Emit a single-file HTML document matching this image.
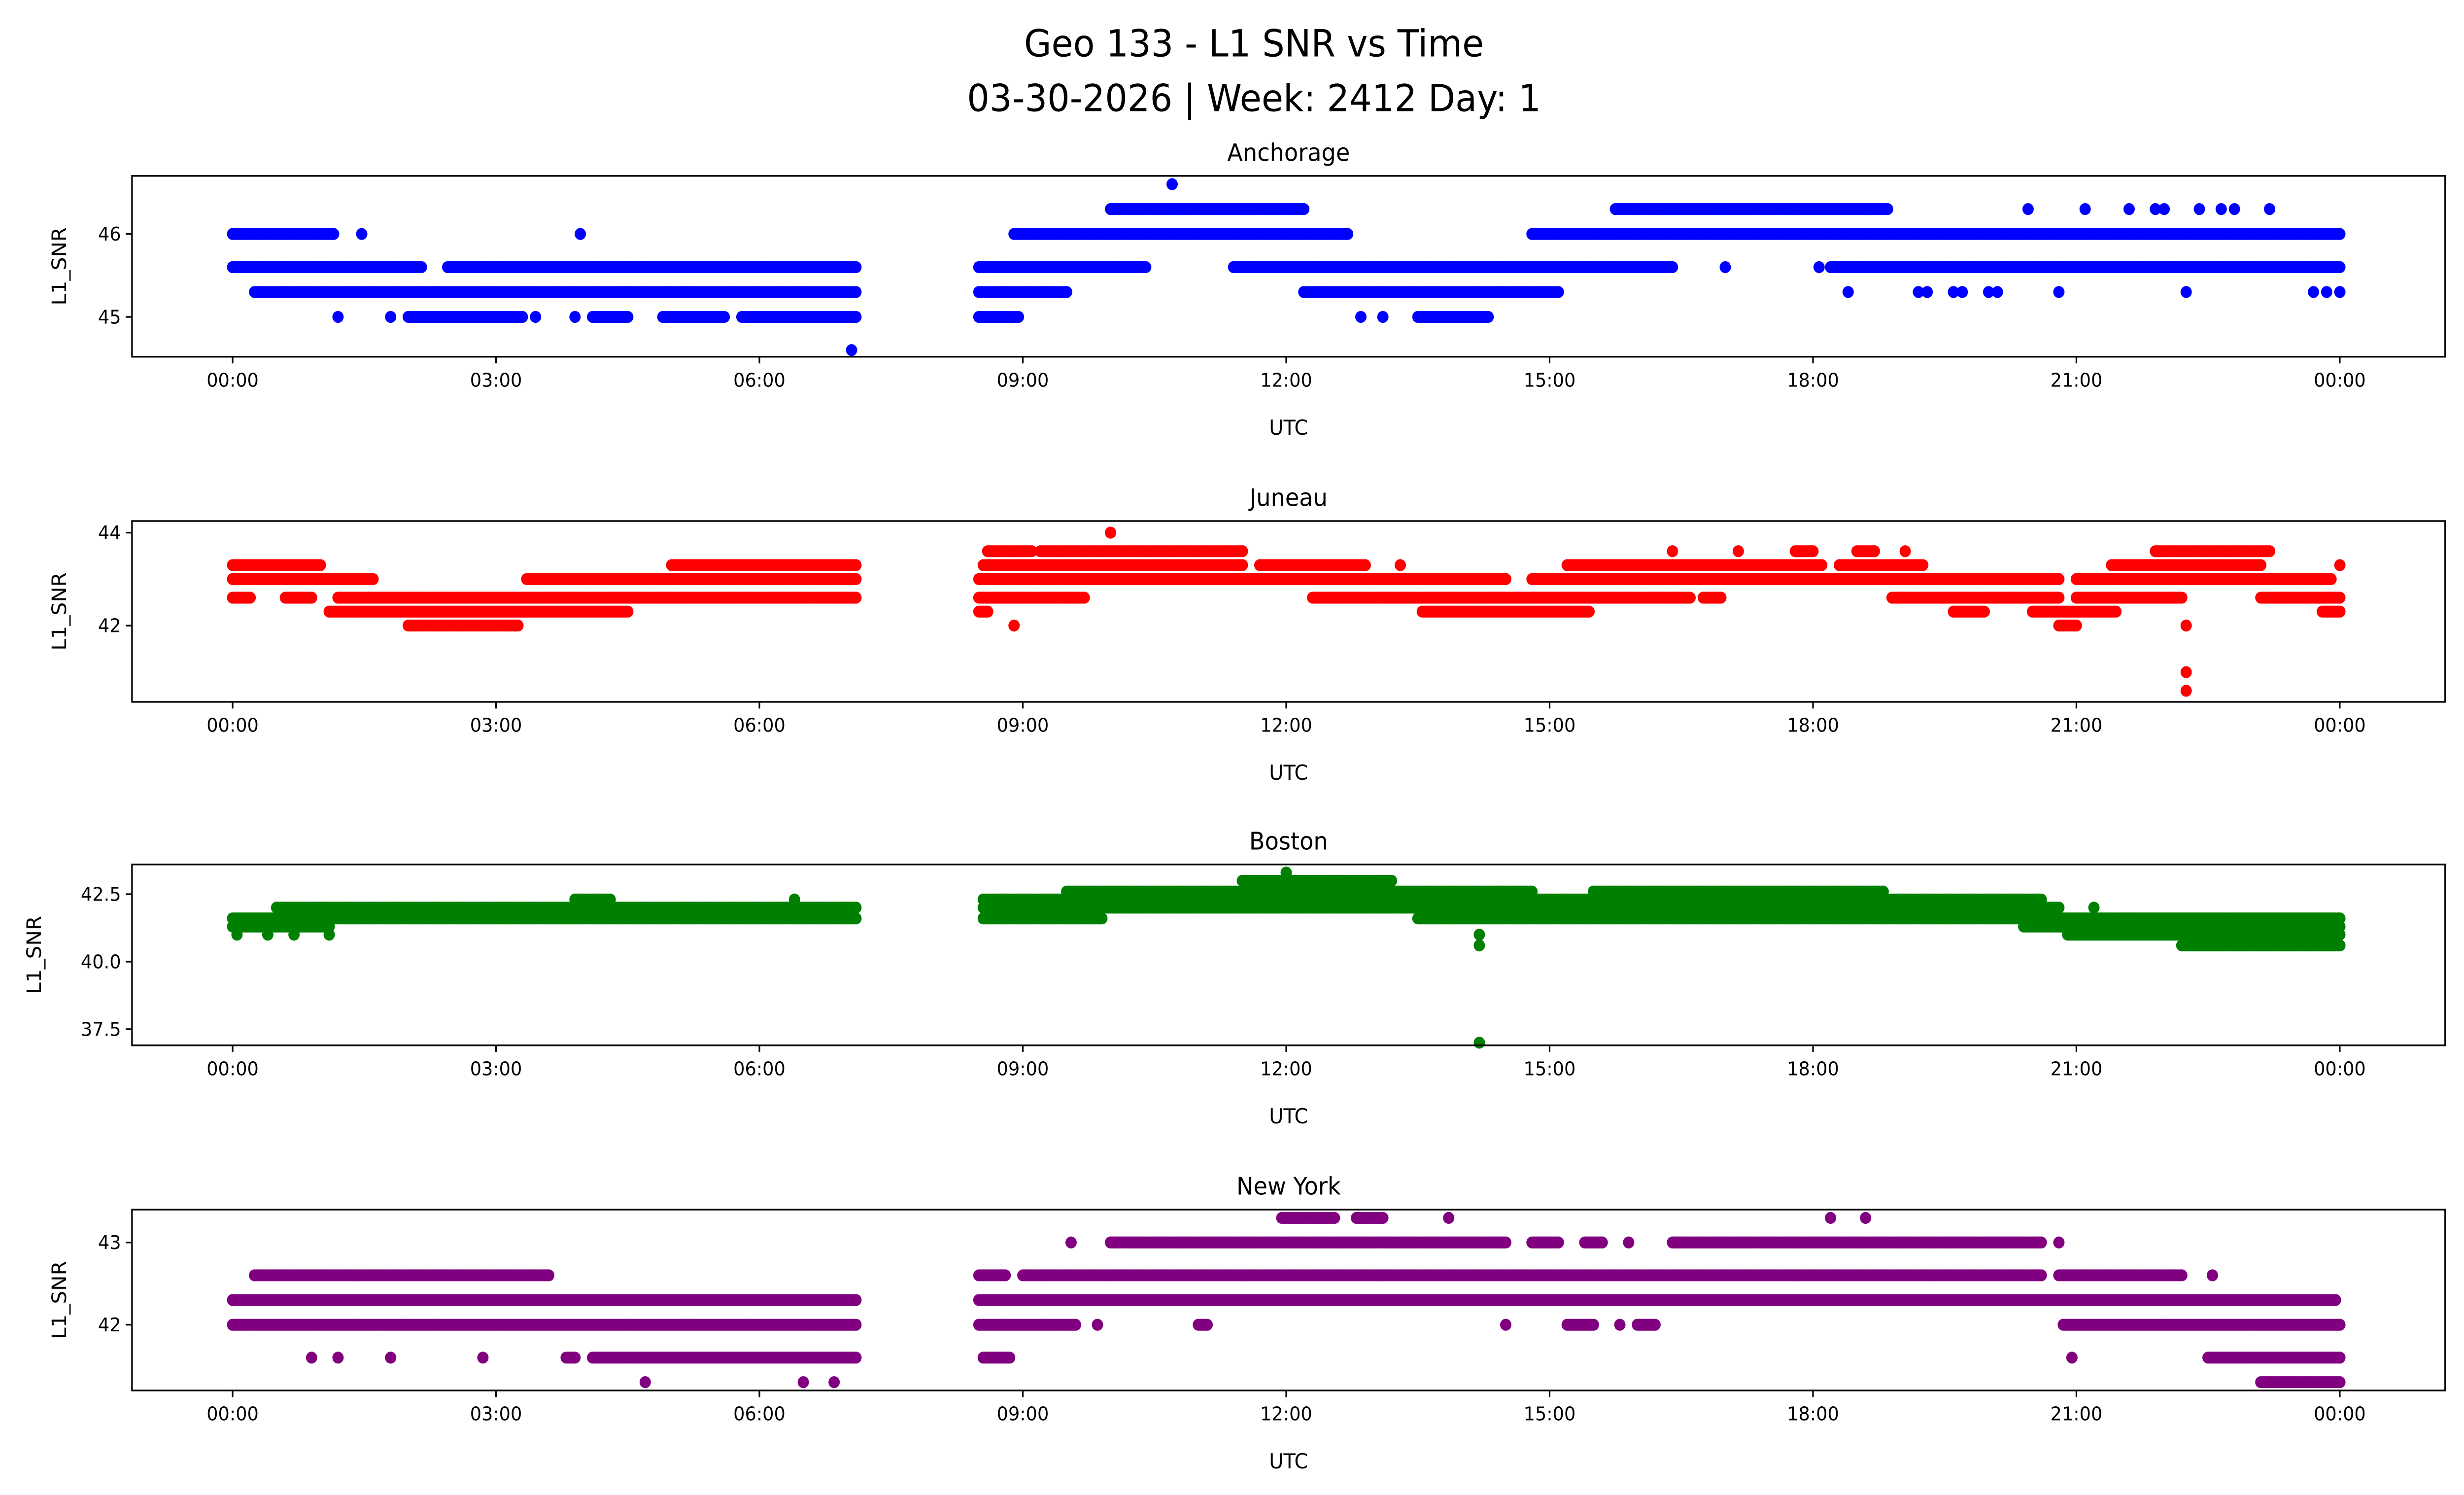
<!DOCTYPE html>
<html><head><meta charset="utf-8"><style>
html,body{margin:0;padding:0;background:#fff;overflow:hidden;width:100vw;height:100vh;}
svg{display:block;position:absolute;left:0;top:0;width:100vw;height:100vh;}
text{font-family:"DejaVu Sans","Liberation Sans",sans-serif;}
</style></head><body>
<svg id="fig" xmlns="http://www.w3.org/2000/svg" viewBox="0 0 1568 901" preserveAspectRatio="none">
<rect x="0" y="0" width="1568" height="901" fill="#fff"/>
<text x="798" y="34" font-size="22.5" text-anchor="middle">Geo 133 - L1 SNR vs Time</text>
<text x="798" y="67" font-size="22.5" text-anchor="middle">03-30-2026 | Week: 2412 Day: 1</text>
<g id="plots"></g>
</svg>
<script>
// x ticks (hours) and labels
const xTickHours = [0,3,6,9,12,15,18,21,24];
const xTickLabels = ["00:00","03:00","06:00","09:00","12:00","15:00","18:00","21:00","00:00"];
const xDomain = [-1.146, 25.2];

const panelNames = ["Anchorage","Juneau","Boston","New York"];
const panelColors = ["#0000ff","#ff0000","#008000","#800080"];
const panelYLims = [[44.52,46.7],[40.36,44.25],[36.9,43.6],[41.2,43.4]];
const panelYTicks = [[45,46],[42,44],[37.5,40.0,42.5],[42,43]];
const panelYTickLabels = [["45","46"],["42","44"],["37.5","40.0","42.5"],["42","43"]];

// runs: [level, startHour, endHour(optional single point)]
const anchorageRuns = [
[46.0,0,1.15],[46.0,1.47],[46.0,3.96],[46.0,8.9,12.7],[46.0,14.8,24],
[46.3,10.0,12.2],[46.3,15.75,18.85],[46.3,18.6],[46.3,20.45],[46.3,21.1],[46.3,21.6],[46.3,21.9],[46.3,22.0],[46.3,22.4],[46.3,22.65],[46.3,22.8],[46.3,23.2],
[46.6,10.7],
[45.6,0,2.15],[45.6,2.45,7.1],[45.6,8.5,10.4],[45.6,11.4,16.4],[45.6,17.0],[45.6,18.07],[45.6,18.2,24],
[45.3,0.25,7.1],[45.3,8.5,9.5],[45.3,12.2,15.1],[45.3,18.4],[45.3,19.2],[45.3,19.3],[45.3,19.6],[45.3,19.7],[45.3,20.0],[45.3,20.1],[45.3,20.8],[45.3,22.25],[45.3,23.7],[45.3,23.85],[45.3,24],
[45.0,1.2],[45.0,1.8],[45.0,2.0,3.3],[45.0,3.45],[45.0,3.9],[45.0,4.1,4.5],[45.0,4.9,5.6],[45.0,5.8,7.1],[45.0,8.5,8.95],[45.0,12.85],[45.0,13.1],[45.0,13.5,14.3],
[44.6,7.05]
];
const juneauRuns = [
[43.3,0,1.0],[43.3,5.0,7.1],[43.3,8.55,11.5],[43.3,11.7,12.9],[43.3,13.3],[43.3,15.2,18.1],[43.3,18.3,19.25],[43.3,21.4,23.1],[43.3,24],
[43.6,8.6,9.1],[43.6,9.2,11.5],[43.6,16.4],[43.6,17.15],[43.6,17.8,18.0],[43.6,18.5,18.7],[43.6,19.05],[43.6,21.9,23.2],
[44.0,10.0],
[43.0,0,1.6],[43.0,3.35,7.1],[43.0,8.5,14.5],[43.0,14.8,20.8],[43.0,21.0,23.9],
[42.6,0,0.2],[42.6,0.6,0.9],[42.6,1.2,7.1],[42.6,8.5,9.7],[42.6,12.3,16.6],[42.6,16.75,16.95],[42.6,18.9,20.8],[42.6,21.0,22.2],[42.6,23.1,24],
[42.3,1.1,4.5],[42.3,8.5,8.6],[42.3,13.55,15.45],[42.3,19.6,19.95],[42.3,20.5,21.45],[42.3,23.8,24],
[42.0,2.0,3.25],[42.0,8.9],[42.0,20.8,21.0],[42.0,22.25],
[41.0,22.25],[40.6,22.25]
];
const bostonRuns = [
[41.3,0,1.1],[41.0,0.05],[41.0,0.4],[41.0,0.7],[41.0,1.1],
[41.6,0,7.1],[41.6,8.55,9.9],[41.6,13.5,24],
[42.0,0.5,1.0],[42.0,1.0,7.1],[42.0,8.55,20.8],[42.0,21.2],
[42.3,3.9,4.3],[42.3,6.4],[42.3,8.55,20.6],
[42.6,9.5,14.8],[42.6,15.5,18.8],
[43.0,11.5,13.2],[43.3,12.0],
[41.3,20.4,24],[41.0,20.9,24],[40.6,22.2,24],
[41.0,14.2],[40.6,14.2],[37.0,14.2]
];
const newYorkRuns = [
[42.6,0.25,3.6],[42.6,8.5,8.8],[42.6,9.0,20.6],[42.6,20.8,22.2],[42.6,22.55],
[42.3,0,7.1],[42.3,8.5,23.95],
[42.0,0,7.1],[42.0,8.5,9.6],[42.0,9.85],[42.0,11.0,11.1],[42.0,14.5],[42.0,15.2,15.5],[42.0,15.8],[42.0,16.0,16.2],[42.0,20.85,24],
[43.0,9.55],[43.0,10.0,14.5],[43.0,14.8,15.1],[43.0,15.4,15.6],[43.0,15.9],[43.0,16.4,20.6],[43.0,20.8],
[43.3,11.95,12.55],[43.3,12.8,13.1],[43.3,13.85],[43.3,18.2],[43.3,18.6],
[41.6,0.9],[41.6,1.2],[41.6,1.8],[41.6,2.85],[41.6,3.8,3.9],[41.6,4.1,7.1],[41.6,8.55,8.85],[41.6,20.95],[41.6,22.5,24],
[41.3,4.7],[41.3,6.5],[41.3,6.85],[41.3,23.1,24]
];
const panelRuns = [anchorageRuns, juneauRuns, bostonRuns, newYorkRuns];

const NS = "http://www.w3.org/2000/svg";
const axL = 84, axR = 1556;
const axTops = [106,314,521,729];
const axH = 109;
const root = document.getElementById('plots');
function xs(h){ return axL + (h - xDomain[0]) / (xDomain[1]-xDomain[0]) * (axR-axL); }
function mk(tag, attrs, parent){ const e=document.createElementNS(NS,tag); for(const k in attrs) e.setAttribute(k,attrs[k]); (parent||root).appendChild(e); return e; }

panelNames.forEach((name, i) => {
  const top = axTops[i], bot = top + axH;
  const [y0,y1] = panelYLims[i];
  const ys = v => bot - (v - y0)/(y1 - y0) * axH;
  const g = mk('g', {});
  
  
  const pts = mk('g', {fill: panelColors[i]}, g);
  
  
  panelRuns[i].forEach(r => {
    const lv = r[0], s = r[1], e = (r.length > 2 ? r[2] : r[1]);
    for (let h = s; h <= e + 1e-9; h += 0.025) {
      const c = mk('circle', {cx: xs(h).toFixed(1), cy: ys(lv).toFixed(1), r: 3.6}, pts);
      
      
    }
  });
  const fr = mk('rect', {x: axL, y: top, width: axR-axL, height: axH, fill: 'none', stroke: '#000', 'stroke-width': 1}, g);
  
  
  xTickHours.forEach((h, k) => {
    const x = xs(h);
    mk('line', {x1: x, x2: x, y1: bot, y2: bot + 4, stroke: '#000', 'stroke-width': 1}, g);
    const t = mk('text', {x: x, y: bot + 18, 'font-size': 11.5, 'text-anchor': 'middle'}, g);
    t.textContent = xTickLabels[k];
    
    
  });
  panelYTicks[i].forEach((v, k) => {
    const y = ys(v);
    mk('line', {x1: axL - 4, x2: axL, y1: y, y2: y, stroke: '#000', 'stroke-width': 1}, g);
    const t = mk('text', {x: axL - 7, y: y + 4, 'font-size': 11.5, 'text-anchor': 'end'}, g);
    t.textContent = panelYTickLabels[i][k];
    
    
  });
  const xl = mk('text', {x: (axL+axR)/2, y: bot + 47, 'font-size': 12.5, 'text-anchor': 'middle'}, g);
  xl.textContent = 'UTC';
  
  
  const yx = i === 2 ? 26 : 42;
  const yl = mk('text', {x: yx, y: top + axH/2, 'font-size': 12.5, 'text-anchor': 'middle', transform: 'rotate(-90 ' + yx + ' ' + (top + axH/2) + ')'}, g);
  yl.textContent = 'L1_SNR';
  
  
  const tt = mk('text', {x: (axL+axR)/2, y: top - 9, 'font-size': 14.5, 'text-anchor': 'middle'}, g);
  tt.textContent = name;
  
  
});
</script>
</body></html>
